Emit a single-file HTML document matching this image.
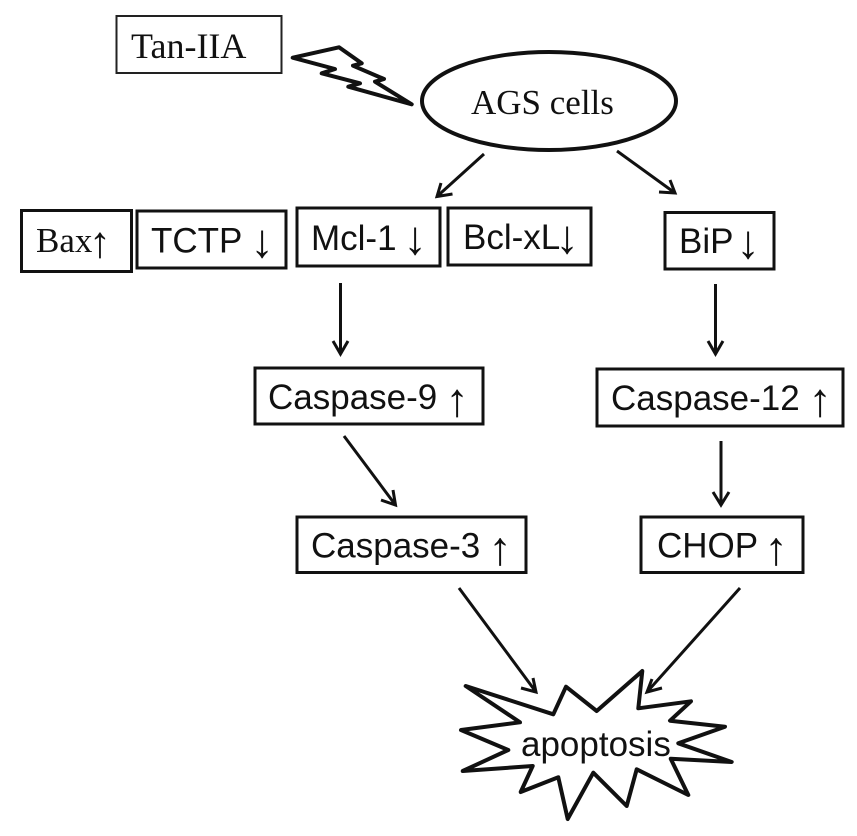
<!DOCTYPE html>
<html><head><meta charset="utf-8"><style>
html,body{margin:0;padding:0;background:#fff}
svg{display:block}
.s{font-family:"Liberation Sans",sans-serif;font-size:35px;fill:#111}
.t{font-family:"Liberation Serif",serif;font-size:35px;fill:#111}
.a{font-family:"Liberation Sans",sans-serif;font-size:47px;fill:#111;text-anchor:middle}
.b{fill:#fff;stroke:#111;stroke-width:3}
.l{fill:none;stroke:#111;stroke-width:3}
</style></head><body>
<svg width="857" height="836" viewBox="0 0 857 836" xmlns="http://www.w3.org/2000/svg">
<rect x="116.500" y="16" width="165" height="57" fill="#fff" stroke="#222" stroke-width="2"/>
<text class="t" x="131" y="58" style="font-size:36px">Tan-IIA</text>
<polygon points="292.700,57.700 339,47.300 361.700,63.300 353,65.700 384,79 375,81.700 411.700,104.300 348.300,86.700 360,83.300 321.700,73.300 335,69" fill="#fff" stroke="#111" stroke-width="4" stroke-linejoin="round"/>
<ellipse cx="549" cy="101" rx="127" ry="49" fill="#fff" stroke="#111" stroke-width="4"/>
<text class="t" x="471" y="114">AGS cells</text>

<rect class="b" x="21.500" y="210.500" width="110" height="61"/>
<text class="t" x="36" y="252">Bax</text>
<text class="a" x="100" y="257" style="font-size:44px">↑</text>
<rect class="b" x="137" y="211" width="149" height="57"/>
<text class="s" x="151" y="252.500">TCTP</text>
<text class="a" x="262" y="257">↓</text>
<rect class="b" x="297" y="208" width="143" height="58"/>
<text class="s" x="311" y="250">Mcl-1</text>
<text class="a" x="415" y="254">↓</text>
<rect class="b" x="448" y="208" width="143" height="57"/>
<text class="s" x="463" y="249">Bcl-xL</text>
<text class="a" x="567" y="253">↓</text>
<rect class="b" x="665" y="212.500" width="109" height="56.500"/>
<text class="s" x="679" y="253">BiP</text>
<text class="a" x="748" y="258">↓</text>
<rect class="b" x="255" y="368" width="228" height="56"/>
<text class="s" x="268" y="409">Caspase-9</text>
<text class="a" x="457" y="416">↑</text>
<rect class="b" x="597" y="369" width="246" height="57"/>
<text class="s" x="611" y="410">Caspase-12</text>
<text class="a" x="820" y="416">↑</text>
<rect class="b" x="297" y="517" width="229" height="55.500"/>
<text class="s" x="311" y="557.500">Caspase-3</text>
<text class="a" x="500" y="564.500">↑</text>
<rect class="b" x="641" y="517" width="162" height="55.500"/>
<text class="s" x="657" y="557.500">CHOP</text>
<text class="a" x="776" y="564.500">↑</text>

<path class="l" d="M484 154L437 196.500M441 183L437 196.500L452.500 194"/>
<path class="l" d="M617 151L675 193M670 180L675 193L659 192"/>
<path class="l" d="M340.500 283V354M333 341L340.500 354L348 341"/>
<path class="l" d="M715.500 284V354M708 341L715.500 354L723 341"/>
<path class="l" d="M344 436L395.500 505M393 490L395.500 505L381 500"/>
<path class="l" d="M721 441V505M713 492L721 505L729 492"/>
<path class="l" d="M459 588L536 692M533 678L536 692L521 688"/>
<path class="l" d="M740 588L647 692M652 679L647 692L662 688"/>
<polygon points="465.700,686 553.300,714.300 566,686.700 596.700,711 642.300,671 638.300,708.300 691,701.300 670,720.700 725,726.700 678.300,743.300 731.700,762 670.700,758.700 688.300,795 636.700,769.300 626.700,806 593.300,772.700 567.700,819 558.300,777.300 520.700,792 532.700,766 462.700,771 508.300,750 461,730 520,722.300" fill="#fff" stroke="#111" stroke-width="4" stroke-linejoin="round"/>
<text class="s" x="521" y="756">apoptosis</text>
</svg>
</body></html>
